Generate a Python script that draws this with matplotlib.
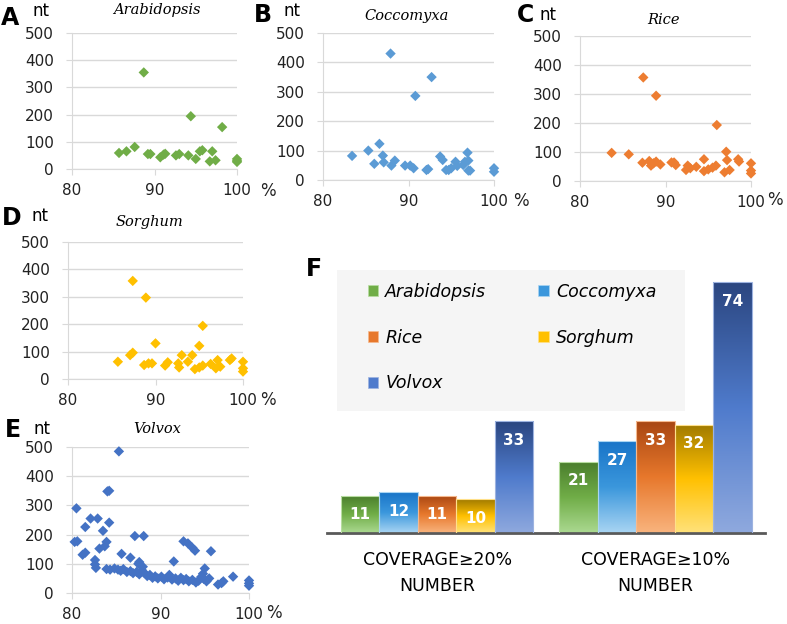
import numpy as np
import matplotlib
matplotlib.use("Agg")
import matplotlib.pyplot as plt
from matplotlib.colors import LinearSegmentedColormap
from matplotlib.patches import Patch, Rectangle

W, H = 787, 624

# ---- panel A-E: coverage (%) vs length (nt) ----
arab_x = [85.7, 86.6, 87.6, 88.7, 89.2, 89.5, 90.7, 91.1, 91.3, 92.6, 93.0, 94.1, 94.4,
          95.0, 95.5, 95.8, 96.7, 97.0, 97.4, 98.2, 100, 100, 100]
arab_y = [59, 65, 81, 355, 55, 55, 43, 53, 56, 50, 55, 50, 194,
          37, 65, 69, 28, 65, 32, 154, 37, 26, 30]

cocc_x = [83.4, 85.3, 86.0, 86.6, 87.0, 87.1, 87.9, 88.0, 88.4, 89.6, 90.2, 90.6, 90.8,
          92.1, 92.3, 92.7, 93.7, 94.0, 94.4, 94.7, 95.0, 95.5, 95.7, 96.4, 96.6, 96.9,
          97.0, 97.0, 97.2, 100, 100]
cocc_y = [82, 100, 55, 123, 83, 60, 430, 49, 66, 49, 49, 40, 286,
          34, 37, 350, 80, 68, 34, 34, 40, 62, 48, 51, 62, 93,
          66, 32, 32, 40, 28]

rice_x = [83.7, 85.7, 87.4, 87.3, 88.1, 88.3, 88.6, 88.9, 88.9, 89.4, 90.7, 91.0, 91.2,
          92.4, 92.6, 92.9, 93.6, 94.5, 94.5, 95.0, 95.5, 95.9, 96.0, 96.9, 97.1, 97.2,
          97.5, 98.5, 98.6, 100, 100, 100]
rice_y = [97, 92, 357, 63, 69, 53, 61, 294, 67, 57, 64, 64, 55,
          38, 53, 44, 49, 75, 34, 40, 46, 53, 193, 30, 101, 72,
          38, 75, 67, 61, 36, 26]

sorg_x = [85.7, 87.1, 87.4, 87.4, 88.7, 88.9, 89.2, 89.6, 90.0, 91.1, 91.4, 92.6, 92.7,
          93.0, 93.7, 94.2, 94.5, 95.0, 95.0, 95.4, 95.4, 96.3, 96.9, 97.1, 97.4, 98.5,
          98.7, 100, 100, 100]
sorg_y = [63, 87, 96, 358, 51, 297, 57, 57, 130, 49, 61, 57, 42,
          87, 63, 87, 36, 42, 121, 194, 49, 55, 39, 69, 45, 69,
          75, 63, 39, 27]

volv_x = [80.3, 80.6, 80.5, 81.2, 81.5, 81.5, 82.1, 82.9, 82.6, 82.6, 82.7, 83.1, 83.5,
          83.7, 83.9, 84.0, 84.2, 84.2, 85.3, 85.6, 86.6, 87.1, 87.6, 88.1, 91.5, 92.6,
          93.1, 93.6, 93.9, 95.7, 95.0, 96.5, 96.9, 97.1, 98.2, 100, 100, 100,
          83.9, 84.3, 84.8, 85.2, 85.5, 85.8, 86.2, 86.6, 86.9, 87.3, 87.6, 87.9, 88.2,
          88.5, 88.8, 89.1, 89.4, 89.7, 90.1, 90.4, 90.8, 91.0, 91.3, 91.7, 92.0, 92.3,
          92.6, 92.9, 93.2, 93.6, 94.0, 94.3, 94.6, 94.9, 95.2, 95.5, 94.8, 88.0, 87.5]
volv_y = [175, 177, 290, 131, 138, 226, 255, 255, 113, 98, 86, 152, 213,
          160, 175, 348, 350, 241, 485, 134, 121, 195, 106, 195, 108, 177,
          170, 155, 145, 143, 84, 29, 34, 40, 56, 43, 33, 25,
          82, 80, 84, 80, 76, 82, 72, 75, 68, 72, 64, 78, 68,
          58, 62, 52, 57, 50, 56, 47, 53, 62, 46, 50, 42, 52,
          44, 48, 40, 45, 36, 42, 55, 48, 40, 50, 66, 90, 100]

# ---- panel F: number of genes ----
species = ["Arabidopsis", "Coccomyxa", "Rice", "Sorghum", "Volvox"]
cov20 = [11, 12, 11, 10, 33]
cov10 = [21, 27, 33, 32, 74]
groups = ["COVERAGE\u226520%\nNUMBER", "COVERAGE\u226510%\nNUMBER"]

plt.rcParams["font.family"] = "DejaVu Sans"
fig = plt.figure(figsize=(W / 100, H / 100), dpi=100)


def fx(px):
    return px / W


def fy(py):
    return 1 - py / H


def scatter_panel(box, xs, ys, color, title, letter, letter_xy, nt_xy, title_xy, pct):
    x0, y0, x1, y1 = box
    ax = fig.add_axes([fx(x0), fy(y1), (x1 - x0) / W, (y1 - y0) / H])
    ax.scatter(xs, ys, marker="D", s=28, color=color, edgecolors="none", zorder=3, clip_on=False)
    ax.set_xlim(80, 100)
    ax.set_ylim(0, 500)
    ax.set_xticks([80, 90, 100])
    ax.set_yticks(range(0, 501, 100))
    ax.grid(axis="y", color="#d9d9d9", lw=1)
    ax.set_axisbelow(True)
    for s in ("top", "right"):
        ax.spines[s].set_visible(False)
    for s in ("left", "bottom"):
        ax.spines[s].set_color("#d9d9d9")
    ax.tick_params(colors="#d9d9d9", length=4, labelcolor="#222222", labelsize=11)
    ax.tick_params(axis="x", pad=6)
    ax.tick_params(axis="y", pad=9)
    ax.annotate("%", xy=(1, 0), xycoords="axes fraction",
                xytext=(pct[0] * 0.72, -pct[1] * 0.72), textcoords="offset points",
                ha="center", va="center", fontsize=12, color="#222222")
    fig.text(fx(letter_xy[0]), fy(letter_xy[1]), letter, fontsize=17, fontweight="bold",
             ha="center", va="center")
    fig.text(fx(nt_xy[0]), fy(nt_xy[1]), "nt", fontsize=12, ha="center", va="center")
    fig.text(fx(title_xy[0]), fy(title_xy[1]), title, fontsize=10.5, style="italic",
             family="DejaVu Serif", ha="center", va="center")
    return ax


scatter_panel((72, 33, 237, 169), arab_x, arab_y, "#70ad47", "Arabidopsis", "A",
              (10, 18), (41, 11), (157, 10), (31, 22))
scatter_panel((323, 33, 494, 180), cocc_x, cocc_y, "#5b9bd5", "Coccomyxa", "B",
              (263, 15), (292, 11), (407, 16), (27, 21))
scatter_panel((580, 36, 751, 181), rice_x, rice_y, "#ed7d31", "Rice", "C",
              (526, 15), (548, 15), (663, 20), (24, 19))
scatter_panel((68, 242, 243, 379), sorg_x, sorg_y, "#ffc000", "Sorghum", "D",
              (12, 218), (40, 216), (149, 222), (25, 21))
scatter_panel((72, 447, 249, 593), volv_x, volv_y, "#4472c4", "Volvox", "E",
              (13, 430), (42, 429), (157, 429), (25, 20))

# ---- panel F ----
grads = {
    "Arabidopsis": ["#abd991", "#70ad47", "#4a7d2c"],
    "Coccomyxa": ["#a9d5f3", "#3b97dc", "#1874c8"],
    "Rice": ["#f9b47e", "#e7782c", "#a84612"],
    "Sorghum": ["#ffe27a", "#ffc000", "#a07a00"],
    "Volvox": ["#8fa9de", "#4f7bcc", "#2b4680"],
}
edges = {"Arabidopsis": "#b7dda0", "Coccomyxa": "#a9d5f3", "Rice": "#f6b98e",
         "Sorghum": "#ffe08a", "Volvox": "#9db3e0"}

axf = fig.add_axes([fx(327), fy(533), 438 / W, 263 / H])
gap = 5.675
grad = np.linspace(0, 1, 256).reshape(-1, 1)
for g, vals in enumerate([cov20, cov10]):
    for i, (sp, v) in enumerate(zip(species, vals)):
        x = i + g * gap
        bar = axf.bar(x, v, width=1, color="none", edgecolor=edges[sp], lw=0.8, zorder=3)[0]
        cmap = LinearSegmentedColormap.from_list(sp, grads[sp])
        im = axf.imshow(grad, extent=[x - 0.5, x + 0.5, 0, v], origin="lower",
                        aspect="auto", cmap=cmap, zorder=2)
        im.set_clip_path(bar)
        axf.annotate(str(v), xy=(x, v), xytext=(0, -19 * 0.72), textcoords="offset points",
                     ha="center", va="center", color="white", fontweight="bold", fontsize=11,
                     zorder=4)
axf.set_xlim(-0.86, 10.52)
axf.set_ylim(0, 77.6)
axf.set_yticks([])
axf.set_xticks([2, 4 + gap - 2], groups, fontsize=12.5, linespacing=1.55)
axf.tick_params(axis="x", length=0, pad=13)
for s in ("top", "right", "left"):
    axf.spines[s].set_visible(False)
axf.spines["bottom"].set_color("#595959")
axf.spines["bottom"].set_linewidth(2)

axf.add_patch(Rectangle((0.023, 0.464), 0.794, 0.536, transform=axf.transAxes,
                        facecolor="#f5f5f5", edgecolor="none", zorder=0))
order = [0, 2, 4, 1, 3]
handles = [Patch(facecolor=grads[species[k]][1], edgecolor=edges[species[k]], lw=0.5)
           for k in order]
axf.legend(handles, [species[k] for k in order], ncol=2, loc="upper left",
           bbox_to_anchor=(0.0936, 0.951), frameon=False, borderpad=0,
           prop={"size": 12.5, "style": "italic"}, handlelength=0.6, handleheight=0.6,
           handletextpad=0.4, labelspacing=1.6, columnspacing=3.0, borderaxespad=0)
fig.text(fx(314), fy(269), "F", fontsize=17, fontweight="bold", ha="center", va="center")

fig.savefig("out.png", dpi=100)
